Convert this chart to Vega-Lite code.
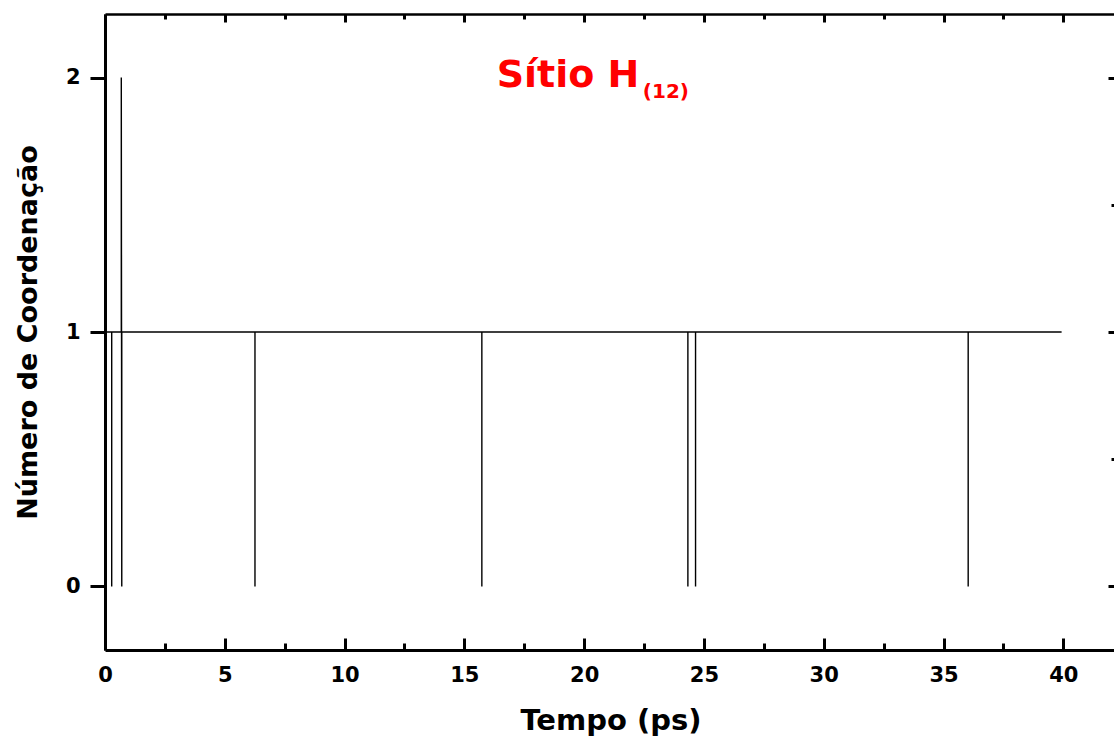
{
  "$schema": "https://vega.github.io/schema/vega-lite/v6.json",
  "width": 1011,
  "height": 636,
  "autosize": {"type": "none"},
  "padding": {"left": 105, "top": 14, "right": 0, "bottom": 90},
  "background": "white",
  "config": {
    "font": "DejaVu Sans",
    "view": {"stroke": null},
    "axis": {"grid": false, "domainColor": "black", "tickColor": "black", "labelColor": "black", "titleColor": "black"}
  },
  "datasets": {
    "coord": [
      {"i": 0, "t": 0.0, "n": 1},
      {"i": 1, "t": 0.28, "n": 1},
      {"i": 2, "t": 0.28, "n": 0},
      {"i": 3, "t": 0.28, "n": 1},
      {"i": 4, "t": 0.68, "n": 1},
      {"i": 5, "t": 0.68, "n": 2},
      {"i": 6, "t": 0.7, "n": 0},
      {"i": 7, "t": 0.7, "n": 1},
      {"i": 8, "t": 6.26, "n": 1},
      {"i": 9, "t": 6.26, "n": 0},
      {"i": 10, "t": 6.26, "n": 1},
      {"i": 11, "t": 15.73, "n": 1},
      {"i": 12, "t": 15.73, "n": 0},
      {"i": 13, "t": 15.73, "n": 1},
      {"i": 14, "t": 24.33, "n": 1},
      {"i": 15, "t": 24.33, "n": 0},
      {"i": 16, "t": 24.33, "n": 1},
      {"i": 17, "t": 24.65, "n": 1},
      {"i": 18, "t": 24.65, "n": 0},
      {"i": 19, "t": 24.65, "n": 1},
      {"i": 20, "t": 36.03, "n": 1},
      {"i": 21, "t": 36.03, "n": 0},
      {"i": 22, "t": 36.03, "n": 1},
      {"i": 23, "t": 39.93, "n": 1}
    ],
    "rotulo": [
      {"t": 16.35, "n": 1.9646, "texto": "Sítio H"}
    ],
    "indice": [
      {"t": 22.45, "n": 1.921, "texto": "(12)"}
    ]
  },
  "layer": [
    {
      "data": {"name": "coord"},
      "mark": {"type": "line", "color": "black", "strokeWidth": 1.4, "interpolate": "linear"},
      "encoding": {
        "x": {
          "field": "t", "type": "quantitative",
          "scale": {"domain": [0, 42.2], "nice": false, "zero": false},
          "axis": {
            "orient": "bottom",
            "title": "Tempo (ps)",
            "format": "d",
            "values": [0, 2.5, 5, 7.5, 10, 12.5, 15, 17.5, 20, 22.5, 25, 27.5, 30, 32.5, 35, 37.5, 40, 42.5],
            "labelExpr": "datum.value % 5 === 0 ? datum.label : ''",
            "labelFlush": false,
            "domainWidth": 3,
            "tickWidth": 3,
            "tickSize": {"condition": {"test": "datum.value % 5 === 0", "value": -12}, "value": -7},
            "labelFontSize": 21,
            "labelFontWeight": "bold",
            "labelPadding": 26,
            "titleFontSize": 29,
            "titleFontWeight": "bold",
            "titlePadding": 21
          }
        },
        "y": {
          "field": "n", "type": "quantitative",
          "scale": {"domain": [-0.25, 2.25], "nice": false, "zero": false},
          "axis": {
            "orient": "left",
            "title": "Número de Coordenação",
            "format": "d",
            "values": [0, 0.5, 1, 1.5, 2],
            "labelExpr": "datum.value % 1 === 0 ? datum.label : ''",
            "labelFlush": false,
            "domainWidth": 3,
            "tickWidth": 3,
            "tickSize": {"condition": {"test": "datum.value % 1 === 0", "value": 15}, "value": 7},
            "labelFontSize": 21,
            "labelFontWeight": "bold",
            "labelPadding": 10,
            "titleFontSize": 27,
            "titleFontWeight": "bold",
            "titlePadding": 23
          }
        },
        "order": {"field": "i", "type": "quantitative"}
      }
    },
    {
      "data": {"name": "rotulo"},
      "mark": {"type": "text", "color": "#ff0000", "fontSize": 38, "fontWeight": "bold", "align": "left", "baseline": "alphabetic"},
      "encoding": {
        "x": {
          "field": "t", "type": "quantitative",
          "scale": {"domain": [0, 42.2], "nice": false, "zero": false},
          "axis": {
            "orient": "top",
            "title": null,
            "values": [0, 2.5, 5, 7.5, 10, 12.5, 15, 17.5, 20, 22.5, 25, 27.5, 30, 32.5, 35, 37.5, 40, 42.5],
            "labels": false,
            "domainWidth": 2.5,
            "tickWidth": 3,
            "tickSize": {"condition": {"test": "datum.value % 5 === 0", "value": -8}, "value": -5}
          }
        },
        "y": {
          "field": "n", "type": "quantitative",
          "scale": {"domain": [-0.25, 2.25], "nice": false, "zero": false},
          "axis": {
            "orient": "right",
            "title": null,
            "values": [0, 0.5, 1, 1.5, 2],
            "labels": false,
            "domainWidth": 2.5,
            "tickWidth": 3,
            "tickSize": {"condition": {"test": "datum.value % 1 === 0", "value": -8}, "value": -5}
          }
        },
        "text": {"field": "texto"}
      }
    },
    {
      "data": {"name": "indice"},
      "mark": {"type": "text", "color": "#ff0000", "fontSize": 20, "fontWeight": "bold", "align": "left", "baseline": "alphabetic"},
      "encoding": {
        "x": {"field": "t", "type": "quantitative", "scale": {"domain": [0, 42.2], "nice": false, "zero": false}, "axis": null},
        "y": {"field": "n", "type": "quantitative", "scale": {"domain": [-0.25, 2.25], "nice": false, "zero": false}, "axis": null},
        "text": {"field": "texto"}
      }
    }
  ],
  "resolve": {"axis": {"x": "independent", "y": "independent"}}
}
